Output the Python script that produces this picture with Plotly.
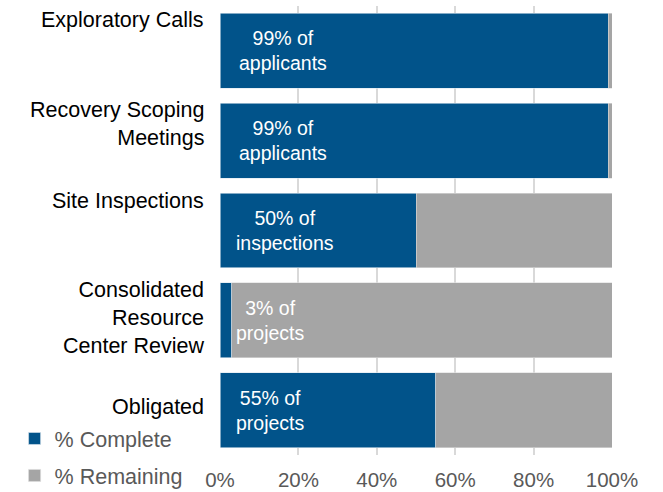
import plotly.graph_objects as go

categories = ["Exploratory Calls", "Recovery Scoping<br>Meetings", "Site Inspections",
              "Consolidated<br>Resource<br>Center Review", "Obligated"]
complete = [99, 99, 50, 3, 55]
remaining = [1, 1, 50, 97, 45]
bar_labels = ["99% of<br>applicants", "99% of<br>applicants", "50% of<br>inspections",
              "3% of<br>projects", "55% of<br>projects"]
tick_vals = [0, 20, 40, 60, 80, 100]
tick_text = ["0%", "20%", "40%", "60%", "80%", "100%"]

# layout helpers (not data)
label_x = [16, 16, 16.5, 13, 13]
cat_shift = [31, 17, 30, 2, 3]

BLUE = "#01538A"
GRAY = "#A5A5A5"
FONT = "Liberation Sans"

fig = go.Figure()
fig.add_trace(go.Bar(y=categories, x=complete, orientation="h", name="% Complete",
                     marker=dict(color=BLUE, line=dict(color="#DCE6EE", width=0.6)),
                     legendgroup="a"))
fig.add_trace(go.Bar(y=categories, x=remaining, orientation="h", name="% Remaining",
                     marker=dict(color=GRAY, line=dict(color="#DDDDDD", width=0.6)),
                     legendgroup="b"))

annotations = []
for cat, txt, lx in zip(categories, bar_labels, label_x):
    annotations.append(dict(x=lx, y=cat, xref="x", yref="y", text=txt, showarrow=False,
                            font=dict(family=FONT, size=19.5, color="white"),
                            xanchor="center", yanchor="middle", align="center"))
for cat, sh in zip(categories, cat_shift):
    annotations.append(dict(x=-0.035, y=cat, xref="paper", yref="y", text=cat, showarrow=False,
                            font=dict(family=FONT, size=21.5, color="black"),
                            xanchor="right", yanchor="middle", align="right", yshift=sh))

fig.update_layout(
    barmode="stack",
    bargap=0.165,
    width=663, height=492,
    margin=dict(l=220, r=51, t=6, b=37),
    plot_bgcolor="white", paper_bgcolor="white",
    font=dict(family=FONT, size=18, color="#595959"),
    xaxis=dict(range=[0, 100], tickvals=tick_vals, ticktext=tick_text,
               showgrid=True, gridcolor="#D9D9D9", gridwidth=1.5, zeroline=False,
               showline=False, ticks="", tickfont=dict(size=20.5, color="#595959"),
               automargin=False, ticklabelstandoff=10),
    yaxis=dict(autorange="reversed", showticklabels=False, showgrid=False, zeroline=False,
               automargin=False),
    legend=dict(xref="container", yref="container", x=0.022, y=1 - 418 / 492,
                xanchor="left", yanchor="top", orientation="v",
                font=dict(family=FONT, size=21.5, color="#595959"),
                tracegroupgap=6, traceorder="grouped", bgcolor="rgba(0,0,0,0)",
                itemwidth=30),
    annotations=annotations,
    showlegend=True,
)

fig.write_html("out.html", config={"displayModeBar": False},
               post_script="document.body.style.margin='0';")
